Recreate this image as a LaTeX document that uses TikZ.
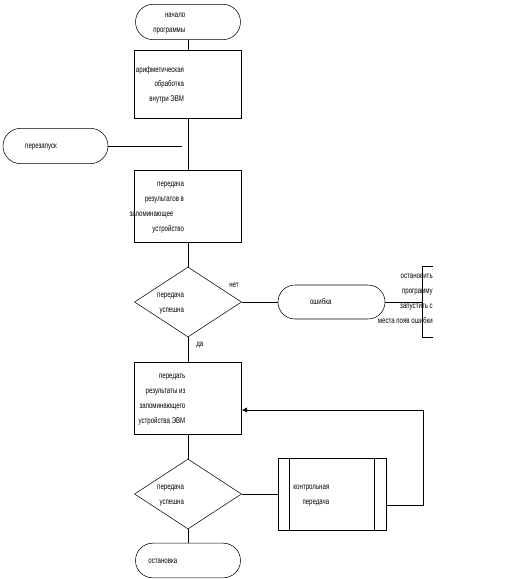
\documentclass[tikz,border=0pt]{standalone}
\usepackage{fontspec}
\setmainfont{Liberation Sans}[FakeStretch=0.74]
\usepackage{tikz}
\usetikzlibrary{arrows.meta, positioning, shapes.geometric, shapes.misc}
% right-aligned lines ending a little left of the node centre
\newcommand{\rtxt}[2][2pt]{\llap{\begin{tabular}{@{}r@{}}#2\end{tabular}\hspace{#1}}}

\begin{document}
\begin{tikzpicture}[
    x=0.75pt, y=-0.75pt,
    font=\fontsize{6.2}{11.2}\selectfont,
    term/.style={draw, rounded rectangle, minimum width=78.75pt, minimum height=26.5pt, inner sep=0pt},
    proc/.style={draw, minimum width=80.25pt, minimum height=54pt, inner sep=0pt},
    cond/.style={draw, diamond, minimum width=80.25pt, minimum height=52.5pt, inner sep=0pt},
    line/.style={draw, line width=0.6pt},
    arrow/.style={-{Latex[length=4pt, width=4pt]}, line width=0.6pt}
]
\useasboundingbox (0,0) rectangle (532,579);

\node[term] (start) at (188,22) {\rtxt{начало\\программы}};
\node[proc, minimum height=51pt] (b1) at (188,84) {\rtxt[3pt]{арифметическая\\обработка\\внутри ЭВМ}};
\node[term] (restart) at (55.5,146) {\rtxt[-1pt]{перезапуск}};
\node[proc] (b2) at (188,206) {\rtxt[3pt]{передача\\результатов в\\запоминающее\hspace*{8pt}\\устройство}};
\node[cond] (d1) at (188,302) {\rtxt[3pt]{передача\\успешна}};
\node[term, minimum width=80.25pt, minimum height=25.5pt] (err) at (331.5,302) {\rtxt[0pt]{ошибка}};
\node[align=right, anchor=east, inner sep=0pt] (note) at (433,299) {остановить\\программу\\запустить с\\места появ ошибки};
\node[anchor=west, inner sep=0pt] (no) at (229,285) {нет};
\node[anchor=west, inner sep=0pt] (yes) at (196,345) {да};
\node[proc] (b3) at (188,398) {\rtxt[2pt]{передать\\результаты из\\запоминающего\\устройства ЭВМ}};
\node[cond] (d2) at (188,494) {\rtxt[3pt]{передача\\успешна}};
\node[proc, minimum width=81pt] (ctrl) at (332,494) {\rtxt[2pt]{контрольная\\передача}};
\node[term, minimum height=26pt] (stop) at (188,560.5) {\rtxt[8pt]{остановка}};

\coordinate (rs) at (182,146);
\coordinate (br) at (422,302);

\foreach \a/\b in {start/b1,b1/b2,b2/d1,d1/b3,b3/d2,d2/stop}{\draw[line] (\a.south) -- (\b.north);}
\draw[line] (restart.east) -- (rs);
\draw[line] (d1.east) -- (err.west);
\draw[line] (err.east) -- (br);
\draw[line] ([shift={(11,-36)}]br) -- ++(-11,0) -- ++(0,71) -- ++(11,0);
\draw[line] (d2.east) -- (ctrl.west);
\draw[line] ([xshift=9pt]ctrl.north west) -- ([xshift=9pt]ctrl.south west);
\draw[line] ([xshift=-9pt]ctrl.north east) -- ([xshift=-9pt]ctrl.south east);
\draw[arrow] ([shift={(0,11)}]ctrl.east) -- ++(37,0) |- ([shift={(0,12)}]b3.east);
\end{tikzpicture}
\end{document}
